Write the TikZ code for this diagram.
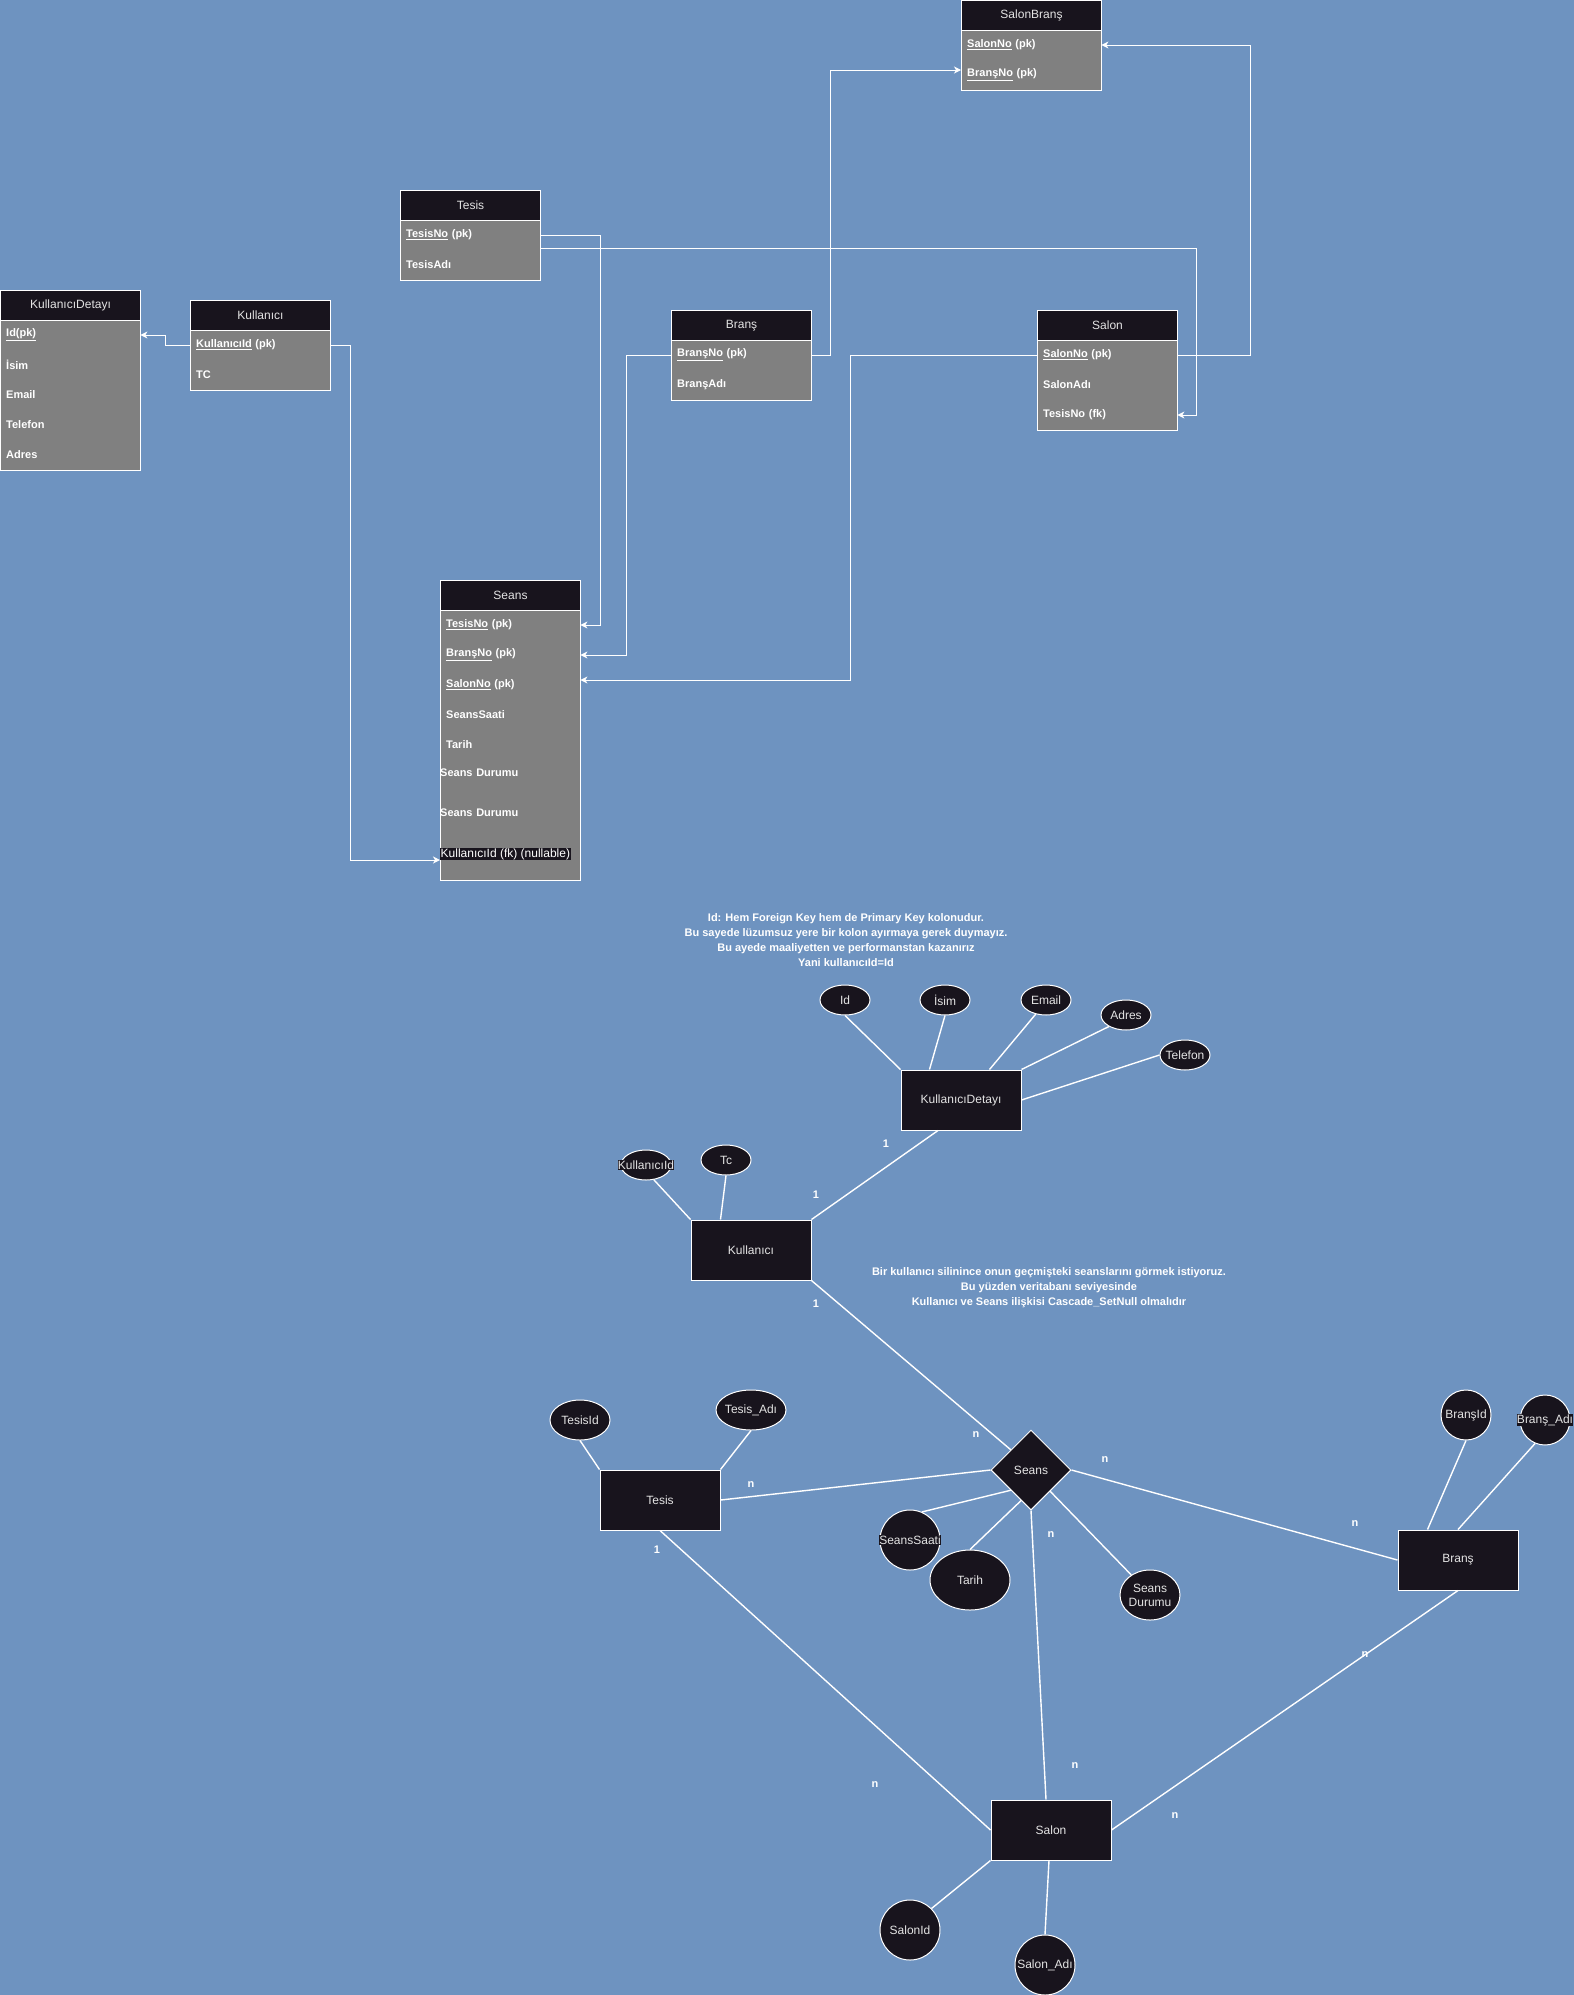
\documentclass[tikz,border=0pt]{standalone}
\usepackage{fontspec}
\setmainfont{Liberation Sans}
\usetikzlibrary{shapes.geometric,arrows.meta,calc}
\definecolor{bg}{RGB}{110,147,192}
\definecolor{dark}{RGB}{24,20,29}
\definecolor{bodygray}{RGB}{128,128,128}
\definecolor{hdtext}{RGB}{228,228,228}
\tikzset{
  x=1pt,y=-1pt,
  hdr/.style={draw=white, fill=dark, line width=1pt, minimum width=140pt, minimum height=30pt, anchor=north west, text=hdtext, font=\fontsize{12}{14}\selectfont, inner sep=0pt},
  tbody/.style={draw=white, fill=bodygray, line width=1pt, minimum width=140pt, anchor=north west, inner sep=0pt},
  row/.style={anchor=west, text width=128pt, inner xsep=6pt, inner ysep=0pt, minimum height=14pt, text=white, font=\bfseries\fontsize{11}{13}\selectfont, align=left},
  fkarrow/.style={draw=white, line width=1pt, -{Stealth[length=7pt,width=7pt,inset=2pt]}},
  ent/.style={draw=white, fill=dark, line width=1pt, minimum width=120pt, minimum height=60pt, inner sep=0pt, text=hdtext, font=\fontsize{12}{14}\selectfont},
  rel/.style={diamond, draw=white, fill=dark, line width=1pt, minimum width=80pt, minimum height=80pt, inner sep=0pt, text=hdtext, font=\fontsize{12}{14}\selectfont},
  attr/.style={ellipse, draw=white, fill=dark, line width=1pt, inner sep=0pt},
  atxt/.style={fill=dark, inner sep=0.3pt, text=hdtext, font=\fontsize{12}{14}\selectfont},
  erl/.style={draw=white, line width=1.4pt},
  card/.style={text=white, font=\bfseries\fontsize{11}{13}\selectfont, inner sep=0pt},
  notetxt/.style={text=white, align=center, font=\bfseries\fontsize{11}{15}\selectfont, inner sep=0pt}
}
\begin{document}
\begin{tikzpicture}
\useasboundingbox (0,0) rectangle (1574,1995);
\fill[bg] (0,0) rectangle (1574,1995);

% ---------------- Tables ----------------
% KullaniciDetayi
\node[tbody, minimum height=150pt] (kdB) at (0,320) {};
\node[hdr] (kdH) at (0,290) {KullanıcıDetayı};
\node[row] (kd1) at (0,335) {\underline{Id(pk)}};
\node[row] (kd2) at (0,365) {İsim};
\node[row] (kd3) at (0,395) {Email};
\node[row] (kd4) at (0,425) {Telefon};
\node[row] (kd5) at (0,455) {Adres};

% Kullanici
\node[tbody, minimum height=60pt] (kuB) at (190,330) {};
\node[hdr] (kuH) at (190,300) {Kullanıcı};
\node[row] (ku1) at (190,345) {\underline{KullanıcıId} (pk)};
\node[row] (ku2) at (190,375) {TC};

% Tesis
\node[tbody, minimum height=60pt] (teB) at (400,220) {};
\node[hdr] (teH) at (400,190) {Tesis};
\node[row] (te1) at (400,235) {\underline{TesisNo} (pk)};
\node[row] (te2) at (400,265) {TesisAdı};

% Brans
\node[tbody, minimum height=60pt] (brB) at (671,340) {};
\node[hdr] (brH) at (671,310) {Branş};
\node[row] (br1) at (671,355) {\underline{BranşNo} (pk)};
\node[row] (br2) at (671,385) {BranşAdı};

% SalonBrans
\node[tbody, minimum height=60pt] (sbB) at (961,30) {};
\node[hdr] (sbH) at (961,0) {SalonBranş};
\node[row] (sb1) at (961,45) {\underline{SalonNo} (pk)};
\node[row] (sb2) at (961,75) {\underline{BranşNo} (pk)};

% Salon
\node[tbody, minimum height=90pt] (saB) at (1037,340) {};
\node[hdr] (saH) at (1037,310) {Salon};
\node[row] (sa1) at (1037,355) {\underline{SalonNo} (pk)};
\node[row] (sa2) at (1037,385) {SalonAdı};
\node[row] (sa3) at (1037,415) {TesisNo (fk)};

% Seans
\node[tbody, minimum height=270pt] (seB) at (440,610) {};
\node[hdr] (seH) at (440,580) {Seans};
\node[row] (s1) at (440,625) {\underline{TesisNo} (pk)};
\node[row] (s2) at (440,655) {\underline{BranşNo} (pk)};
\node[row] (s3) at (440,685) {\underline{SalonNo} (pk)};
\node[row] (s4) at (440,715) {SeansSaati};
\node[row] (s5) at (440,745) {Tarih};
\node[row, inner xsep=0pt] (s6) at (440,773) {Seans Durumu};
\node[row, inner xsep=0pt] (s7) at (440,813) {Seans Durumu};
\node[anchor=west, fill=dark, inner sep=0.5pt, text=white, font=\fontsize{12}{14}\selectfont] (s8) at (440,854) {KullanıcıId (fk) (nullable)};

% Table connectors
\draw[fkarrow] (ku1.west) -- ++(-25,0) |- (kd1.east);
\draw[fkarrow] (ku1.east) -- ++(20,0) |- ([yshift=-6pt]s8.west);
\draw[fkarrow] (te1.east) -- ++(60,0) |- (s1.east);
\draw[fkarrow] ([yshift=-13pt]te1.east) -| ([xshift=19pt]sa3.east) -- (sa3.east);
\draw[fkarrow] (br1.west) -- ++(-45,0) |- (s2.east);
\draw[fkarrow] (br1.east) -- ++(19,0) |- ([yshift=5pt]sb2.west);
\draw[fkarrow] (sa1.east) -- ++(73,0) |- (sb1.east);
\draw[fkarrow] (sa1.west) -- ++(-187,0) |- ([yshift=5pt]s3.east);

% ---------------- Notes ----------------
\node[notetxt] (note1) at (846,940) {Id: Hem Foreign Key hem de Primary Key kolonudur.\\Bu sayede lüzumsuz yere bir kolon ayırmaya gerek duymayız.\\Bu ayede maaliyetten ve performanstan kazanırız\\Yani kullanıcıId=Id};
\node[notetxt] (note2) at (1049,1288) {Bir kullanıcı silinince onun geçmişteki seanslarını görmek istiyoruz.\\Bu yüzden veritabanı seviyesinde\\Kullanıcı ve Seans ilişkisi Cascade\_SetNull olmalıdır};

% ---------------- ER diagram ----------------
\node[ent] (kd) at (961,1100) {KullanıcıDetayı};
\node[ent] (kul) at (751,1250) {Kullanıcı};
\node[ent] (tesis) at (660,1500) {Tesis};
\node[ent] (brans) at (1458,1560) {Branş};
\node[ent] (salon) at (1051,1830) {Salon};
\node[rel] (seans) at (1031,1470) {Seans};

\node[attr, minimum width=50pt, minimum height=30pt, label={[atxt]center:Id}] (aId) at (845,1000) {};
\node[attr, minimum width=50pt, minimum height=30pt, label={[atxt]center:İsim}] (aIsim) at (945,1000) {};
\node[attr, minimum width=50pt, minimum height=30pt, label={[atxt]center:Email}] (aEmail) at (1046,1000) {};
\node[attr, minimum width=50pt, minimum height=30pt, label={[atxt]center:Adres}] (aAdres) at (1126,1015) {};
\node[attr, minimum width=50pt, minimum height=30pt, label={[atxt]center:Telefon}] (aTel) at (1185,1055) {};
\node[attr, minimum width=50pt, minimum height=30pt, label={[atxt]center:KullanıcıId}] (aKulId) at (646,1165) {};
\node[attr, minimum width=50pt, minimum height=30pt, label={[atxt]center:Tc}] (aTc) at (726,1160) {};
\node[attr, minimum width=60pt, minimum height=40pt, label={[atxt]center:TesisId}] (aTesisId) at (580,1420) {};
\node[attr, minimum width=70pt, minimum height=40pt, label={[atxt]center:Tesis\_Adı}] (aTesisAdi) at (751,1410) {};
\node[attr, minimum width=60pt, minimum height=60pt, label={[atxt]center:SeansSaati}] (ss) at (910,1540) {};
\node[attr, minimum width=80pt, minimum height=60pt, label={[atxt]center:Tarih}] (tarih) at (970,1580) {};
\node[attr, minimum width=60pt, minimum height=50pt, label={[atxt,align=center]center:Seans\\Durumu}] (sd) at (1150,1595) {};
\node[attr, minimum width=50pt, minimum height=50pt, label={[atxt]center:BranşId}] (aBId) at (1466,1415) {};
\node[attr, minimum width=50pt, minimum height=50pt, label={[atxt]center:Branş\_Adı}] (aBAdi) at (1545,1420) {};
\node[attr, minimum width=60pt, minimum height=60pt, label={[atxt]center:SalonId}] (aSalonId) at (910,1930) {};
\node[attr, minimum width=60pt, minimum height=60pt, label={[atxt]center:Salon\_Adı}] (aSalonAdi) at (1045,1965) {};

\draw[erl] (aId.south) -- (kd.north west);
\draw[erl] (aIsim.south) -- ($(kd.north west)+(29,0)$);
\draw[erl] (aEmail.234) -- ($(kd.north west)+(89,0)$);
\draw[erl] (aAdres.214) -- (kd.north east);
\draw[erl] (aTel.west) -- (kd.east);
\draw[erl] (kul.north east) -- ($(kd.south)+(-23,0)$);
\draw[erl] (aKulId.-62) -- (kul.north west);
\draw[erl] (aTc.south) -- ($(kul.north west)+(30,0)$);
\draw[erl] (kul.south east) -- (seans.north west);
\draw[erl] (tesis.east) -- (seans.west);
\draw[erl] (aTesisId.south) -- (tesis.north west);
\draw[erl] (aTesisAdi.south) -- (tesis.north east);
\draw[erl] (tesis.south) -- (salon.west);
\draw[erl] (seans.south west) -- (ss.67);
\draw[erl] (seans.252) -- (tarih.north);
\draw[erl] (seans.-48) -- (sd.133);
\draw[erl] (seans.south) -- ($(salon.north)+(-5,0)$);
\draw[erl] (seans.east) -- (brans.west);
\draw[erl] (brans.south) -- (salon.east);
\draw[erl] (aBId.south) -- ($(brans.north west)+(30,0)$);
\draw[erl] (aBAdi.247) -- (brans.north);
\draw[erl] (salon.south west) -- (aSalonId.45);
\draw[erl] ($(salon.south)+(-2,0)$) -- (aSalonAdi.north);

% cardinalities
\node[card] (c1) at (886,1144) {1};
\node[card] (c2) at (816,1195) {1};
\node[card] (c3) at (816,1304) {1};
\node[card] (c4) at (657,1550) {1};
\node[card] (c5) at (976,1435) {n};
\node[card] (c6) at (751,1485) {n};
\node[card] (c7) at (1105,1460) {n};
\node[card] (c8) at (1051,1535) {n};
\node[card] (c9) at (1355,1524) {n};
\node[card] (c10) at (1365,1655) {n};
\node[card] (c11) at (1175,1816) {n};
\node[card] (c12) at (1075,1766) {n};
\node[card] (c13) at (875,1785) {n};
\end{tikzpicture}
\end{document}
